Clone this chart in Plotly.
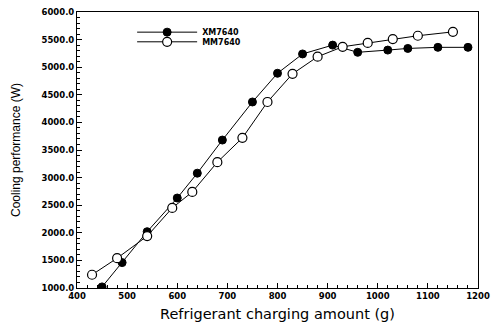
import plotly.graph_objects as go

# Data
xm_x = [450, 490, 540, 600, 640, 690, 750, 800, 850, 910, 960, 1020, 1060, 1120, 1180]
xm_y = [1020, 1460, 2020, 2630, 3080, 3680, 4370, 4890, 5240, 5400, 5270, 5310, 5340, 5360, 5360]
mm_x = [430, 480, 540, 590, 630, 680, 730, 780, 830, 880, 930, 980, 1030, 1080, 1150]
mm_y = [1240, 1540, 1940, 2450, 2740, 3280, 3720, 4370, 4880, 5190, 5370, 5440, 5510, 5570, 5640]

x_ticks = [400, 500, 600, 700, 800, 900, 1000, 1100, 1200]
y_ticks = [1000, 1500, 2000, 2500, 3000, 3500, 4000, 4500, 5000, 5500, 6000]

fig = go.Figure()
fig.add_trace(go.Scatter(
    x=xm_x, y=xm_y, mode="lines+markers", name="XM7640", legend="legend",
    line=dict(color="black", width=1),
    marker=dict(symbol="circle", size=8, color="black", line=dict(color="black", width=1)),
))
fig.add_trace(go.Scatter(
    x=mm_x, y=mm_y, mode="lines+markers", name="MM7640", legend="legend2",
    line=dict(color="black", width=1),
    marker=dict(symbol="circle", size=9, color="white", line=dict(color="black", width=1.2)),
))

tick_font = dict(family="DejaVu Sans", size=8.5, color="black", weight="bold")

axis_common = dict(
    showline=True, linecolor="black", linewidth=1, mirror=True,
    ticks="inside", ticklen=5, tickcolor="black", tickwidth=1,
    showgrid=False, zeroline=False, automargin=False,
    tickfont=tick_font,
)

fig.update_xaxes(
    range=[400, 1200], tickvals=x_ticks,
    minor=dict(ticks="inside", ticklen=3, dtick=20, tickcolor="black", showgrid=False),
    title=dict(text="Refrigerant charging amount (g)",
               font=dict(family="DejaVu Sans", size=14.5, color="black"), standoff=8),
    **axis_common,
)
fig.update_yaxes(
    range=[1000, 6000], tickvals=y_ticks, tickformat=".1f",
    minor=dict(ticks="inside", ticklen=3, dtick=100, tickcolor="black", showgrid=False),
    title=dict(text="Cooling performance (W)",
               font=dict(family="Liberation Sans", size=12, color="black"), standoff=18),
    **axis_common,
)

legend_common = dict(
    xanchor="left", yanchor="middle",
    bgcolor="rgba(0,0,0,0)",
    font=dict(family="DejaVu Sans", size=8, color="black", weight="bold"),
    itemwidth=60, tracegroupgap=0,
)

fig.update_layout(
    width=491, height=322,
    margin=dict(l=77, r=13, t=12, b=34),
    paper_bgcolor="white", plot_bgcolor="white",
    showlegend=True,
    legend=dict(x=0.1375, y=0.927, **legend_common),
    legend2=dict(x=0.1375, y=0.892, **legend_common),
)

fig.write_html("out.html")
